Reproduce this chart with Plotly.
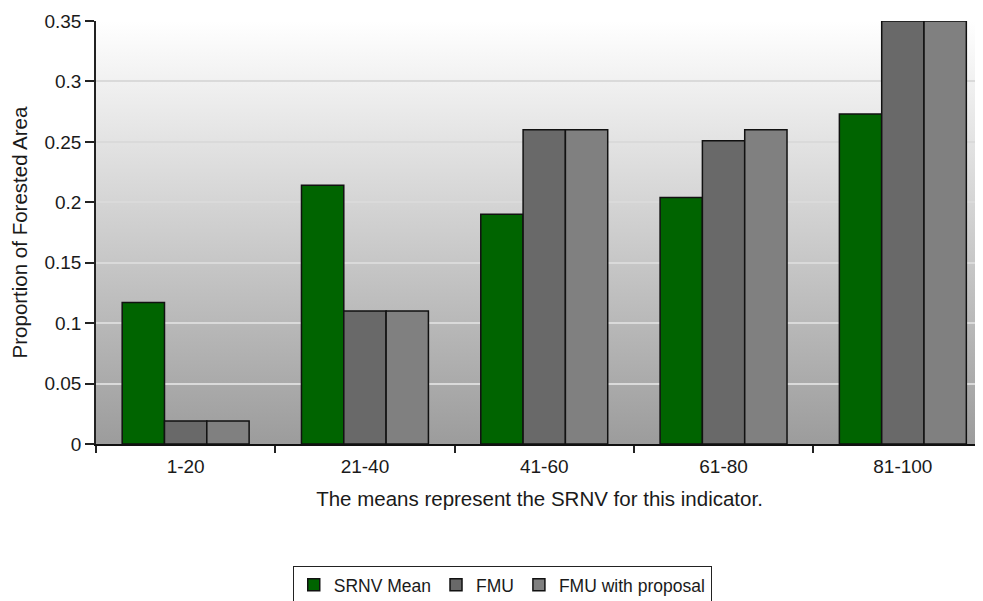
import base64
import plotly.graph_objects as go

categories = ["1-20", "21-40", "41-60", "61-80", "81-100"]
srnv_mean = [0.117, 0.214, 0.190, 0.204, 0.273]
fmu = [0.019, 0.110, 0.260, 0.251, 0.350]
fmu_proposal = [0.019, 0.110, 0.260, 0.260, 0.350]

series_names = ["SRNV Mean", "FMU", "FMU with proposal"]
series_values = [srnv_mean, fmu, fmu_proposal]
series_colors = ["#006400", "#696969", "#808080"]

y_ticks = [0, 0.05, 0.1, 0.15, 0.2, 0.25, 0.3, 0.35]
y_ticktext = ["0", "0.05", "0.1", "0.15", "0.2", "0.25", "0.3", "0.35"]

svg = ("<svg xmlns='http://www.w3.org/2000/svg' width='10' height='100' preserveAspectRatio='none'>"
       "<defs><linearGradient id='g' x1='0' y1='0' x2='0' y2='1'>"
       "<stop offset='0' stop-color='#ffffff'/><stop offset='1' stop-color='#9c9c9c'/>"
       "</linearGradient></defs><rect width='10' height='100' fill='url(#g)'/></svg>")
bg_src = "data:image/svg+xml;base64," + base64.b64encode(svg.encode()).decode()

fig = go.Figure()
for name, vals, col in zip(series_names, series_values, series_colors):
    fig.add_trace(go.Bar(
        x=categories, y=vals, name=name,
        marker=dict(color=col, line=dict(color="#111111", width=1.5)),
    ))

font_fam = "Liberation Sans, Arial, sans-serif"
fig.update_layout(
    width=975, height=593,
    margin=dict(l=88, r=0, t=13, b=157, autoexpand=False),
    paper_bgcolor="white",
    plot_bgcolor="rgba(0,0,0,0)",
    barmode="group", bargap=0.292, bargroupgap=0,
    font=dict(family=font_fam, size=19, color="#1a1a1a"),
    showlegend=True,
    legend=dict(
        orientation="h", x=0.458, xanchor="center", y=-0.288, yanchor="top",
        bgcolor="white", bordercolor="#222222", borderwidth=1,
        font=dict(size=17.5, family=font_fam, color="#1a1a1a"),
        traceorder="normal",
    ),
    images=[dict(source=bg_src, xref="paper", yref="paper", x=0, y=1,
                 sizex=1, sizey=1, xanchor="left", yanchor="top",
                 sizing="stretch", layer="below")],
)
fig.update_xaxes(
    range=[-0.5, 4.447], automargin=False,
    tickson="boundaries", ticks="outside", ticklen=7, tickcolor="#222222", tickwidth=1.5,
    ticklabelstandoff=4,
    showline=True, linecolor="#111111", linewidth=2,
    showgrid=False,
    tickfont=dict(size=19),
    title=dict(text="The means represent the SRNV for this indicator.", font=dict(size=20.5), standoff=16),
)
fig.update_yaxes(
    range=[0, 0.35], tickvals=y_ticks, ticktext=y_ticktext, automargin=False,
    ticks="outside", ticklen=9, tickcolor="#222222", tickwidth=1.5,
    showline=True, linecolor="#222222", linewidth=1.5,
    showgrid=True, gridcolor="#dadada", gridwidth=2,
    zeroline=False,
    tickfont=dict(size=19),
    title=dict(text="Proportion of Forested Area", font=dict(size=20.5), standoff=14),
)
fig.write_html("out.html")
